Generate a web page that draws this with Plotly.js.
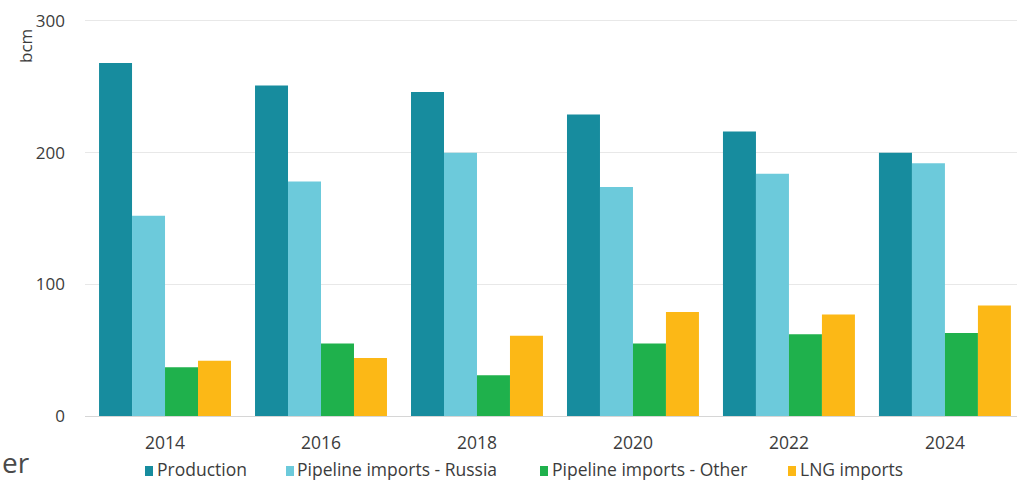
<!DOCTYPE html>
<html>
<head>
<meta charset="utf-8">
<script src="https://cdn.plot.ly/plotly-3.0.1.min.js"></script>
<style>html,body{margin:0;padding:0;background:#fff;}#chart{width:1017px;height:482px;}</style>
</head>
<body>
<div id="chart"></div>
<script>
const years = ["2014", "2016", "2018", "2020", "2022", "2024"];
const production = [268, 251, 246, 229, 216, 200];
const pipelineRussia = [152, 178, 200, 174, 184, 192];
const pipelineOther = [37, 55, 31, 55, 62, 63];
const lngImports = [42, 44, 61, 79, 77, 84];
const seriesNames = ["Production", "Pipeline imports - Russia", "Pipeline imports - Other", "LNG imports"];
const seriesColors = ["#178c9e", "#6ccadb", "#1fb14c", "#fcb816"];
const yTicks = [0, 100, 200, 300];
const unitLabel = "bcm";

const seriesValues = [production, pipelineRussia, pipelineOther, lngImports];
const FONT = "Open Sans, sans-serif";
const TXT = "#3c3c3c";

const traces = seriesValues.map((vals, i) => ({
  type: "bar",
  name: seriesNames[i],
  x: years,
  y: vals,
  marker: {color: seriesColors[i], line: {width: 0}},
  hoverinfo: "x+y+name"
}));

const W = 1017, H = 482, L = 85, T = 19, B = 66;
const plotW = W - L, plotH = H - T - B;
const py = p => (H - B - p) / plotH;
const px = p => (p - L) / plotW;

// legend emulated as swatches + text items below the axis
const swatchX = [145, 286, 540, 788];
const textX = [156, 296, 551, 799];
const shapes = seriesNames.map((n, i) => ({
  type: "rect", xref: "paper", yref: "paper",
  x0: px(swatchX[i]), x1: px(swatchX[i] + 8),
  y0: py(476), y1: py(466),
  fillcolor: seriesColors[i], line: {width: 0}
}));
const annotations = seriesNames.map((n, i) => ({
  xref: "paper", yref: "paper",
  x: px(textX[i]), y: py(469),
  xanchor: "left", yanchor: "middle",
  showarrow: false,
  borderpad: 0,
  text: n,
  font: {family: FONT, size: 17.5, color: TXT}
}));
annotations.push({
  xref: "paper", yref: "paper",
  x: px(25), y: py(46),
  xanchor: "center", yanchor: "middle",
  showarrow: false, textangle: -90,
  text: unitLabel,
  font: {family: FONT, size: 17, color: TXT}
});
annotations.push({
  xref: "paper", yref: "paper",
  x: px(0), y: py(462),
  xanchor: "left", yanchor: "middle",
  showarrow: false,
  text: "er",
  font: {family: FONT, size: 28, color: "#4a4a4a"}
});

const layout = {
  width: W, height: H,
  margin: {l: L, r: 0, t: T, b: B, pad: 0},
  paper_bgcolor: "#ffffff",
  plot_bgcolor: "#ffffff",
  barmode: "group",
  bargap: 0.154,
  bargroupgap: 0,
  showlegend: false,
  font: {family: FONT, size: 16, color: TXT},
  xaxis: {
    type: "category",
    range: [-0.513, 5.462],
    showgrid: false,
    showline: false,
    zeroline: false,
    ticks: "",
    ticklabelstandoff: 14,
    tickfont: {family: FONT, size: 17.5, color: TXT}
  },
  yaxis: {
    range: [0, 301.5],
    tickvals: yTicks,
    ticktext: yTicks.map(String),
    showgrid: true,
    gridcolor: "#e8e8e8",
    gridwidth: 1,
    zeroline: true,
    zerolinecolor: "#d6d6d6",
    zerolinewidth: 1,
    showline: false,
    ticks: "",
    ticklabelstandoff: 19,
    tickfont: {family: FONT, size: 17, color: TXT}
  },
  shapes: shapes,
  annotations: annotations
};

Plotly.newPlot("chart", traces, layout, {displayModeBar: false, staticPlot: true});
</script>
</body>
</html>
